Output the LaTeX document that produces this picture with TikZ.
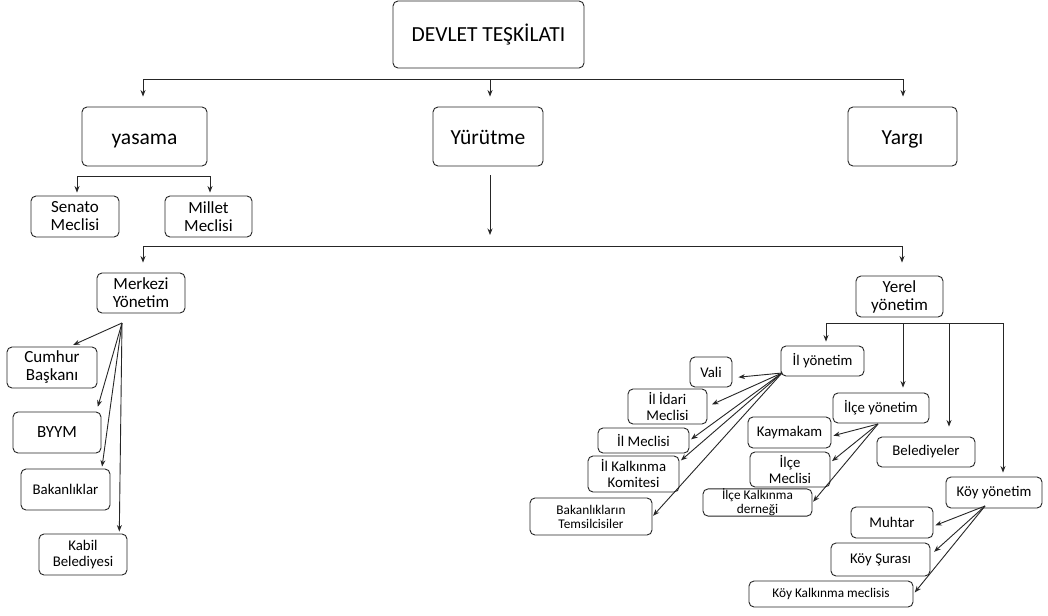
\documentclass[tikz,border=0pt]{standalone}
\usepackage{fontspec}
\setmainfont{Carlito}
\usetikzlibrary{arrows.meta}
\tikzset{
  kutu/.style={draw=black!85,line width=0.9pt,rounded corners=5pt,align=center,inner sep=0pt},
  buyuk/.style={font=\fontsize{21.5}{23}\selectfont,text height=15pt,text depth=0pt},
  orta/.style={font=\fontsize{17}{18}\selectfont},
  kucuk/.style={font=\fontsize{14.8}{16}\selectfont},
  ufak/.style={font=\fontsize{13.3}{14}\selectfont},
  hat/.style={draw=black!85,line width=0.9pt},
  ok/.style={hat,-{Stealth[length=6.5pt,width=5pt]}},
}
\begin{document}
\begin{tikzpicture}[x=1pt,y=-1pt]
\useasboundingbox[fill=white] (0,0) rectangle (1048,615);
% ust kisim
\node[kutu,buyuk,minimum width=191pt,minimum height=67pt](devlet) at (488.5,34.5){DEVLET TEŞKİLATI};
\node[kutu,buyuk,minimum width=125pt,minimum height=59pt](yasama) at (144.5,136.5){yasama};
\node[kutu,buyuk,minimum width=110pt,minimum height=59pt](yurutme) at (488,136.5){Yürütme};
\node[kutu,buyuk,minimum width=109pt,minimum height=59pt](yargi) at (902.5,136.5){Yargı};
\coordinate(b1) at (143,79.5);
\coordinate(b2) at (490,79.5);
\coordinate(b3) at (903,79.5);
\draw[hat](b1)--(b3);
\draw[ok,shorten >=10pt](b1)--(b1|-yasama.north);
\draw[ok,shorten >=10pt](b2)--(b2|-yurutme.north);
\draw[ok,shorten >=10pt](b3)--(b3|-yargi.north);
% yasama
\node[kutu,orta,minimum width=88pt,minimum height=41pt](senato) at (75,216.5){Senato\\Meclisi};
\node[kutu,orta,minimum width=87pt,minimum height=41pt](millet) at (208.5,216.5){Millet\\Meclisi};
\coordinate(s1) at (77,176);
\coordinate(s2) at (210,176);
\draw[hat](s1)--(s2);
\draw[ok,shorten >=3pt](s1)--(s1|-senato.north);
\draw[ok,shorten >=3pt](s2)--(s2|-millet.north);
% yurutme
\node[kutu,orta,minimum width=88pt,minimum height=40pt](merkezi) at (141,293){Merkezi\\Yönetim};
\node[kutu,orta,minimum width=87pt,minimum height=41pt](yerel) at (899.5,296.5){Yerel\\yönetim};
\coordinate(m1) at (143,246);
\coordinate(m2) at (490,246);
\coordinate(m3) at (902,246);
\draw[hat](m1)--(m3);
\draw[ok,shorten <=9pt,shorten >=11pt](b2|-yurutme.south)--(m2);
\draw[ok,shorten >=10pt](m1)--(m1|-merkezi.north);
\draw[ok,shorten >=13pt](m3)--(m3|-yerel.north);
% merkezi yonetim
\node[kutu,orta,minimum width=90pt,minimum height=41pt](cumhur) at (52,367.5){Cumhur\\Başkanı};
\node[kutu,orta,minimum width=88pt,minimum height=41pt](byym) at (57,432.5){BYYM};
\node[kutu,kucuk,minimum width=89pt,minimum height=41pt](bakanlik) at (65.5,489.5){Bakanlıklar};
\node[kutu,kucuk,minimum width=88pt,minimum height=41pt](kabil) at (83,554.5){Kabil\\Belediyesi};
\coordinate(mk) at (122,323);
\draw[ok,shorten >=4pt](mk)--(cumhur.50);
\draw[ok,shorten >=5pt](mk)--(byym.28);
\draw[ok,shorten >=2pt](mk)--(bakanlik.30);
\draw[ok,shorten >=2pt](mk)--(kabil.30);
% yerel yonetim
\node[kutu,kucuk,minimum width=83pt,minimum height=30pt](ilyon) at (822.5,361){İl yönetim};
\node[kutu,kucuk,minimum width=96pt,minimum height=30pt](ilceyon) at (881,408){İlçe yönetim};
\node[kutu,kucuk,minimum width=98pt,minimum height=30pt](belediye) at (926,452){Belediyeler};
\node[kutu,kucuk,minimum width=96pt,minimum height=31pt](koyyon) at (994,492.5){Köy yönetim};
\coordinate(y1) at (826,323);
\coordinate(y2) at (903,323);
\coordinate(y3) at (949,323);
\coordinate(y4) at (1003,323);
\draw[hat](y1)--(y4);
\draw[ok,shorten >=4pt](y1)--(y1|-ilyon.north);
\draw[ok,shorten >=5pt](y2)--(y2|-ilceyon.north);
\draw[ok,shorten >=10pt](y3)--(y3|-belediye.north);
\draw[ok,shorten >=4pt](y4)--(y4|-koyyon.north);
% il
\node[kutu,kucuk,minimum width=42pt,minimum height=30pt](vali) at (711,372){Vali};
\node[kutu,kucuk,minimum width=79pt,minimum height=35pt](ilidari) at (667.5,406.5){İl İdari\\Meclisi};
\node[kutu,kucuk,minimum width=91pt,minimum height=25pt](ilmeclis) at (643.5,440.5){İl Meclisi};
\node[kutu,kucuk,minimum width=91pt,minimum height=36pt](ilkalk) at (633.5,474){İl Kalkınma\\Komitesi};
\node[kutu,ufak,minimum width=122pt,minimum height=37pt](temsil) at (591,516.5){Bakanlıkların\\Temsilcisiler};
\coordinate(ik) at (782,373);
\draw[ok,shorten >=6pt](ik)--(vali.-15);
\draw[ok,shorten >=5pt](ik)--(ilidari.east);
\draw[ok,shorten >=2pt](ik)--(ilmeclis.east);
\draw[ok,shorten >=2pt](ik)--(ilkalk.15);
\draw[ok,shorten >=1pt](ik)--(temsil.east);
% ilce
\node[kutu,kucuk,minimum width=83pt,minimum height=31pt](kaymakam) at (789.5,432.5){Kaymakam};
\node[kutu,kucuk,minimum width=80pt,minimum height=35pt](ilcemeclis) at (790,469.5){İlçe\\Meclisi};
\node[kutu,ufak,minimum width=109pt,minimum height=27pt](ilcekalk) at (757.5,502.5){İlçe Kalkınma\\derneği};
\coordinate(ck) at (878,424);
\draw[ok,shorten >=2pt](ck)--(kaymakam.-5);
\draw[ok,shorten >=2pt](ck)--(ilcemeclis.10);
\draw[ok,shorten >=1pt](ck)--(ilcekalk.east);
% koy
\node[kutu,kucuk,minimum width=82pt,minimum height=31pt](muhtar) at (892,522.5){Muhtar};
\node[kutu,kucuk,minimum width=99pt,minimum height=33pt](sura) at (880.5,559.5){Köy Şurası};
\node[kutu,ufak,minimum width=164pt,minimum height=26pt](koykalk) at (831,594){Köy Kalkınma meclisis};
\coordinate(kk) at (985,506);
\draw[ok,shorten >=2pt](kk)--(muhtar.-5);
\draw[ok,shorten >=5pt](kk)--(sura.5);
\draw[ok,shorten >=2pt](kk)--(koykalk.east);
\end{tikzpicture}
\end{document}
